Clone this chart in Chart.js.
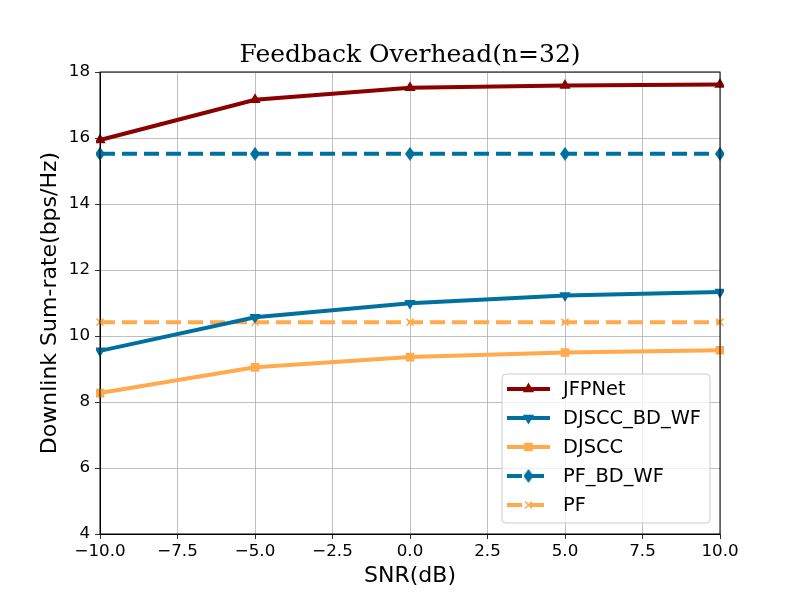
<!DOCTYPE html>
<html>
<head>
<meta charset="utf-8">
<script src="https://cdn.jsdelivr.net/npm/chart.js@4/dist/chart.umd.min.js"></script>
<style>
  body { margin: 0; background: #fff; }
</style>
</head>
<body>
<canvas id="c" width="800" height="600"></canvas>
<script>
// SNR points (dB)
const snr = [-10, -5, 0, 5, 10]
const jfpnet = [15.94, 17.16, 17.52, 17.59, 17.62]
const djsccBdWf = [9.55, 10.57, 10.99, 11.23, 11.33]
const djscc = [8.27, 9.05, 9.36, 9.50, 9.57]
const pfBdWf = [15.52, 15.52, 15.52, 15.52, 15.52]
const pf = [10.42, 10.42, 10.42, 10.42, 10.42]
const xTicks = [-10, -7.5, -5, -2.5, 0, 2.5, 5, 7.5, 10]
const yTicks = [4, 6, 8, 10, 12, 14, 16, 18]

const RED = '#8b0000', BLUE = '#00719f', ORANGE = '#ffaa4d'
const pts = arr => arr.map((v, i) => ({x: snr[i], y: v}))

// thin diamond like matplotlib 'd'
const thinDiamond = (() => {
  const c = document.createElement('canvas')
  c.width = 10; c.height = 14
  const g = c.getContext('2d')
  g.fillStyle = BLUE
  g.beginPath()
  g.moveTo(5, 0); g.lineTo(10, 7); g.lineTo(5, 14); g.lineTo(0, 7)
  g.closePath()
  g.fill()
  return c
})()

const DASH = [15, 7]
const series = [
  {label: 'JFPNet', data: jfpnet, color: RED, style: 'triangle', rot: 0, dash: [], r: 5},
  {label: 'DJSCC_BD_WF', data: djsccBdWf, color: BLUE, style: 'triangle', rot: 180, dash: [], r: 5},
  {label: 'DJSCC', data: djscc, color: ORANGE, style: 'rect', rot: 0, dash: [], r: 5},
  {label: 'PF_BD_WF', data: pfBdWf, color: BLUE, style: thinDiamond, rot: 0, dash: DASH, r: 5},
  {label: 'PF', data: pf, color: ORANGE, style: 'crossRot', rot: 0, dash: DASH, r: 5},
]

const minus = s => String(s).replace('-', '\u2212')

// axes frame, title over the plot area, legend inside the plot
const framePlugin = {
  id: 'frame',
  afterDraw(chart) {
    const {ctx, chartArea: a} = chart
    ctx.save()
    ctx.strokeStyle = '#000'
    ctx.lineWidth = 1
    ctx.strokeRect(a.left, a.top, a.right - a.left, a.bottom - a.top)

    ctx.fillStyle = '#000'
    ctx.font = '25px "DejaVu Serif"'
    ctx.textAlign = 'center'
    ctx.textBaseline = 'middle'
    ctx.fillText('Feedback Overhead(n=32)', (a.left + a.right) / 2, 55)

    // legend box
    const bx = 502, by = 374, bw = 208, bh = 149
    ctx.fillStyle = 'rgba(255,255,255,0.8)'
    ctx.strokeStyle = '#cccccc'
    ctx.beginPath()
    ctx.roundRect(bx, by, bw, bh, 4)
    ctx.fill()
    ctx.stroke()

    series.forEach((s, i) => {
      const y = 389 + i * 29
      ctx.strokeStyle = s.color
      ctx.fillStyle = s.color
      ctx.lineWidth = 4
      ctx.setLineDash(s.dash)
      ctx.beginPath()
      ctx.moveTo(507, y)
      ctx.lineTo(550, y)
      ctx.stroke()
      ctx.setLineDash([])
      ctx.lineWidth = 1.5
      Chart.helpers.drawPoint(ctx, {
        pointStyle: s.style, rotation: s.rot, radius: s.r, borderWidth: 1.5
      }, 528.5, y)
      ctx.fillStyle = '#000'
      ctx.font = '19.4px "DejaVu Sans"'
      ctx.textBaseline = 'middle'
      ctx.textAlign = 'left'
      ctx.fillText(s.label, 563, y + 1)
    })
    ctx.restore()
  }
}

new Chart(document.getElementById('c'), {
  type: 'line',
  data: {
    datasets: series.map(s => ({
      label: s.label,
      data: pts(s.data),
      borderColor: s.color,
      backgroundColor: s.color,
      borderWidth: 4,
      borderDash: s.dash,
      pointStyle: s.style,
      pointRotation: s.rot,
      pointRadius: s.r,
      pointBorderWidth: 1.5,
      pointBorderColor: s.color,
      pointBackgroundColor: s.color,
      tension: 0,
      clip: 4
    }))
  },
  options: {
    responsive: false,
    devicePixelRatio: 1,
    animation: false,
    layout: {padding: {left: 0, right: 80, top: 72, bottom: 0}},
    plugins: {
      legend: {display: false},
      tooltip: {enabled: false},
      title: {display: false}
    },
    scales: {
      x: {
        type: 'linear',
        min: -10, max: 10,
        afterBuildTicks: sc => { sc.ticks = xTicks.map(v => ({value: v})) },
        afterFit: sc => { sc.height = 66 },
        ticks: {
          color: '#000',
          font: {family: '"DejaVu Sans"', size: 16.7},
          padding: 3,
          maxRotation: 0,
          callback: v => minus(Number(v).toFixed(1))
        },
        grid: {color: '#b0b0b0', lineWidth: 0.8, tickColor: '#000', tickLength: 5, drawTicks: true},
        border: {color: '#000', width: 1},
        title: {
          display: true, text: 'SNR(dB)', color: '#000',
          font: {family: '"DejaVu Sans"', size: 22}, padding: {top: 0, bottom: 11}
        }
      },
      y: {
        min: 4, max: 18,
        afterBuildTicks: sc => { sc.ticks = yTicks.map(v => ({value: v})) },
        afterFit: sc => { sc.width = 100 },
        ticks: {
          color: '#000',
          font: {family: '"DejaVu Sans"', size: 16.7},
          padding: 5,
          callback: v => minus(v)
        },
        grid: {color: '#b0b0b0', lineWidth: 0.8, tickColor: '#000', tickLength: 5},
        border: {color: '#000', width: 1},
        title: {
          display: true, text: 'Downlink Sum-rate(bps/Hz)', color: '#000',
          font: {family: '"DejaVu Sans"', size: 22}, padding: {top: 37, bottom: 0}
        }
      }
    }
  },
  plugins: [framePlugin]
})
</script>
</body>
</html>
